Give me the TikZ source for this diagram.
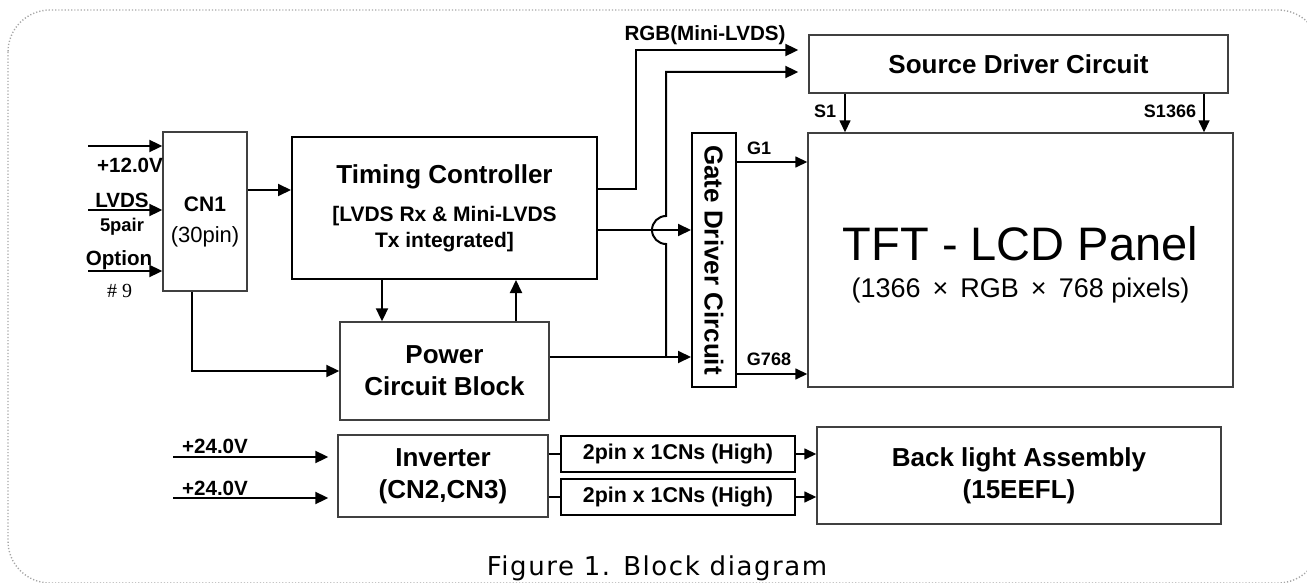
\documentclass[tikz,border=0pt]{standalone}
\usepackage{fontspec}
\usepackage{graphicx}
\setmainfont{Liberation Sans}
\newfontfamily\capfont{DejaVu Sans}[LetterSpace=6]
\newfontfamily\numfont{Liberation Serif}
\usetikzlibrary{arrows.meta}

\begin{document}
\begin{tikzpicture}[x=0.5pt, y=-0.5pt,
  box/.style={draw=black!75, line width=0.7pt, inner sep=0pt, align=center},
  arr/.style={-{Triangle[length=6.5pt,width=6pt]}, line width=1pt},
  sarr/.style={-{Triangle[length=6pt,width=5.5pt]}, line width=0.75pt},
  ttl/.style={font=\fontsize{13}{16}\selectfont\bfseries},
  lbl/.style={font=\fontsize{10.3}{12}\selectfont\bfseries, inner sep=0pt, anchor=base},
  pinlbl/.style={font=\fontsize{9}{11}\selectfont\bfseries, inner sep=0pt, anchor=base}]
  \useasboundingbox[fill=white] (0,0) rectangle (1307,583);
  \draw[gray!70, line width=0.7pt, dash pattern=on 0.6pt off 1pt, rounded corners=21pt] (8,10) rectangle (1320,583);

  % blocks
  \node[box, minimum width=42pt, minimum height=79.5pt] (cn1) at (205,211.5) {};
  \node[align=center, inner sep=0pt] (cn1txt) at (205,222)
    {\fontsize{10.5}{12}\selectfont\bfseries CN1\\[3.5pt]\fontsize{11}{13}\selectfont\mdseries (30pin)};
  \node[box, draw=black, line width=1pt, minimum width=152.5pt, minimum height=71pt,
    font=\fontsize{10.5}{13}\selectfont\bfseries] (tc) at (444.5,208)
    {{\fontsize{13}{15}\selectfont Timing Controller}\\[6pt]{[}LVDS Rx \& Mini-LVDS\\Tx integrated]};
  \node[box, ttl, minimum width=104.5pt, minimum height=49pt] (pwr) at (444.5,371) {Power\\Circuit Block};
  \node[box, ttl, minimum width=105pt, minimum height=41pt] (inv) at (443,476) {Inverter\\(CN2,CN3)};
  \node[box, draw=black, minimum width=117pt, minimum height=18pt,
    font=\fontsize{10.7}{13}\selectfont\bfseries] (pinA) at (678,454) {2pin x 1CNs (High)};
  \node[box, draw=black, minimum width=117pt, minimum height=18pt,
    font=\fontsize{10.7}{13}\selectfont\bfseries] (pinB) at (678,497) {2pin x 1CNs (High)};
  \node[box, ttl, minimum width=202pt, minimum height=48.5pt] (bl) at (1019,475.5) {Back light Assembly\\(15EEFL)};
  \node[box, ttl, draw=black, line width=1pt, minimum width=22pt, minimum height=127pt] (gate) at (714,260)
    {\rotatebox{-90}{Gate Driver Circuit}};
  \node[box, ttl, minimum width=209.5pt, minimum height=29pt] (src) at (1018.5,64) {Source Driver Circuit};
  \node[box, minimum width=212.5pt, minimum height=127pt, font=\fontsize{13.5}{14}\selectfont] (tft) at (1020.5,260)
    {\\[4pt]{\fontsize{23.5}{26}\selectfont TFT - LCD Panel}\\[4.5pt](1366 \,×\, RGB \,×\, 768 pixels)};

  % inputs
  \coordinate (in12) at (88,146);
  \coordinate (inlv) at (88,210);
  \coordinate (inop) at (88,271);
  \coordinate (in24a) at (173,457);
  \coordinate (in24b) at (173,498);
  \coordinate (jn) at (666,357);
  \draw[arr] (in12) -- (in12 -| cn1.west);
  \draw[arr] (inlv) -- (inlv -| cn1.west);
  \draw[arr] (inop) -- (inop -| cn1.west);
  \node[lbl] (l12) at (130,172) {+12.0V};
  \node[lbl] (llv) at (122,207) {LVDS};
  \node[lbl, font=\fontsize{9.2}{11}\selectfont\bfseries] (lpr) at (122,231) {5pair};
  \node[lbl] (lop) at (119,265) {Option};
  \node[lbl, font=\numfont\fontsize{10}{12}\selectfont] (lnine) at (119.5,297) {\# 9};

  % signal paths
  \draw[arr] (cn1.east |- 0,190) -- (tc.west |- 0,190);
  \draw[arr] (cn1.south -| 192,0) |- (pwr.west);
  \draw[arr] (tc.south -| 382,0) -- (pwr.north -| 382,0);
  \draw[arr] (pwr.north -| 516,0) -- (tc.south -| 516,0);
  \draw[arr, shorten >=5pt] (tc.east |- 0,189) -- (636,189) |- (src.west |- 0,50);
  \node[lbl] (lrgb) at (705,41) {RGB(Mini-LVDS)};
  \draw[arr] (tc.east |- 0,230) -- (gate.west |- 0,230);
  \draw[arr] (pwr.east |- jn) -- (gate.west |- jn);
  \draw[arr, shorten >=5pt] (jn) -- (666,244) arc[start angle=90, end angle=270, radius=14]
    -- (666,72) -- (src.west |- 0,72);

  % panel drive lines
  \draw[sarr] (gate.east |- 0,162) -- (tft.west |- 0,162);
  \draw[sarr] (gate.east |- 0,374) -- (tft.west |- 0,374);
  \draw[sarr] (src.south -| 845,0) -- (tft.north -| 845,0);
  \draw[sarr] (src.south -| 1204,0) -- (tft.north -| 1204,0);
  \node[pinlbl] (lg1) at (759,155) {G1};
  \node[pinlbl] (lg768) at (769,365) {G768};
  \node[pinlbl] (ls1) at (825,118) {S1};
  \node[pinlbl] (ls1366) at (1170,118) {S1366};

  % backlight
  \draw[arr, shorten >=4.5pt] (in24a) -- (in24a -| inv.west);
  \draw[arr, shorten >=4.5pt] (in24b) -- (in24b -| inv.west);
  \node[lbl] (l24a) at (215,453) {+24.0V};
  \node[lbl] (l24b) at (215,495) {+24.0V};
  \draw[line width=0.7pt] (inv.east |- pinA) -- (pinA.west);
  \draw[line width=0.7pt] (inv.east |- pinB) -- (pinB.west);
  \draw[sarr] (pinA.east) -- (pinA.east -| bl.west);
  \draw[sarr] (pinB.east) -- (pinB.east -| bl.west);

  \node[font=\capfont\fontsize{13}{15}\selectfont, anchor=base, inner sep=0pt] (cap) at (657,575) {Figure 1. Block diagram};
\end{tikzpicture}
\end{document}
